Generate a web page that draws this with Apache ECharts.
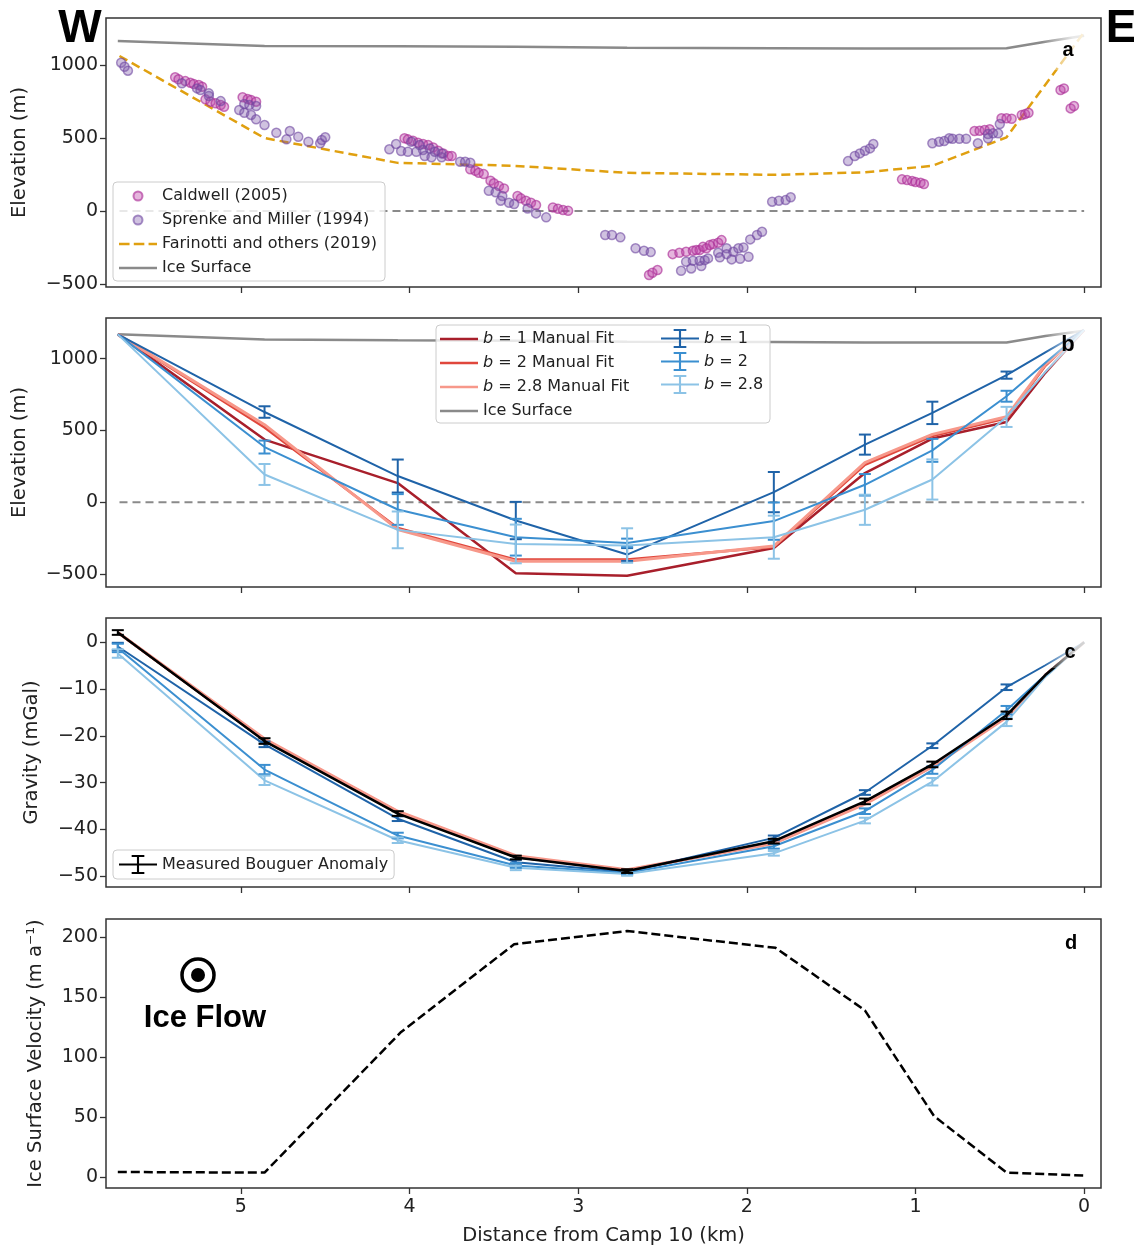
<!DOCTYPE html>
<html>
<head>
<meta charset="utf-8">
<script src="https://cdn.jsdelivr.net/npm/echarts@6/dist/echarts.min.js"></script>
<style>
  html, body { margin:0; padding:0; background:#fff; }
  #main { width:1134px; height:1248px; }
</style>
</head>
<body>
<div id="main"></div>
<script>
// stations along the profile (km from Camp 10)
var stations = [5.73, 4.86, 4.07, 3.37, 2.71, 1.84, 1.30, 0.90, 0.46, 0.23, 0.0];
var kmTicks = [0, 1, 2, 3, 4, 5];

// panel a
var iceSurfA = [1164, 1130, 1128, 1125, 1118, 1115, 1113, 1113, 1115, 1160, 1200];
var farX = [5.72, 4.86, 4.07, 3.38, 2.71, 1.84, 1.30, 0.90, 0.46, 0.0];
var farinotti = [1062, 500, 330, 310, 262, 248, 265, 310, 505, 1225];
var caldwell = [
  [5.39,916],[5.37,902],[5.33,890],[5.30,879],[5.28,870],[5.25,863],[5.23,851],
  [5.21,765],[5.18,749],[5.15,738],[5.12,726],[5.10,714],
  [4.99,779],[4.96,767],[4.94,760],[4.91,749],
  [4.03,498],[4.01,491],[3.98,482],[3.95,468],[3.92,459],[3.89,452],[3.86,436],[3.83,413],[3.80,395],[3.77,377],[3.75,377],
  [3.64,286],[3.61,276],[3.59,262],[3.56,253],
  [3.52,208],[3.50,190],[3.47,171],[3.44,155],
  [3.36,103],[3.34,87],[3.31,71],[3.28,57],[3.25,41],
  [3.15,25],[3.12,16],[3.09,7],[3.06,2],
  [2.58,-438],[2.56,-422],[2.53,-404],
  [2.44,-295],[2.40,-286],[2.36,-279],[2.32,-272],[2.28,-267],[2.24,-255],[2.20,-226],[2.17,-217],[2.15,-199],[2.30,-267],[2.26,-245],[2.22,-233],
  [1.08,217],[1.05,212],[1.02,205],[1.00,199],[0.97,194],[0.95,185],
  [0.65,548],[0.62,550],[0.59,555],[0.56,560],
  [0.49,635],[0.46,635],[0.43,632],
  [0.37,658],[0.35,664],[0.33,673],
  [0.14,829],[0.12,840],[0.08,703],[0.06,719]
];
var sprenke = [
  [5.71,1016],[5.69,988],[5.67,961],
  [5.35,875],[5.26,840],[5.24,829],[5.19,806],[5.19,788],[5.12,753],
  [5.01,692],[4.98,673],[4.94,658],[4.91,628],
  [4.98,733],[4.95,726],[4.91,719],
  [4.86,589],[4.79,536],[4.73,491],[4.71,548],[4.66,509],[4.60,475],[4.53,464],[4.52,486],[4.50,505],
  [4.12,423],[4.08,459],[4.05,411],[4.01,406],[3.96,406],[3.92,418],[3.91,377],[3.87,368],[3.81,368],
  [3.99,475],[3.94,452],[3.88,429],[3.85,406],[3.81,395],
  [3.70,338],[3.67,338],[3.64,331],
  [3.53,139],[3.49,128],[3.45,103],[3.46,71],[3.41,57],[3.38,48],
  [3.30,18],[3.25,-16],[3.19,-43],
  [2.84,-164],[2.80,-164],[2.75,-180],
  [2.66,-255],[2.61,-272],[2.57,-281],
  [2.39,-409],[2.33,-393],[2.27,-377],
  [2.36,-347],[2.32,-340],[2.28,-340],[2.25,-336],[2.23,-324],
  [2.17,-286],[2.16,-317],[2.12,-255],[2.12,-295],[2.08,-279],[2.05,-255],[2.02,-249],
  [2.09,-331],[2.04,-327],[1.99,-313],
  [1.98,-194],[1.94,-164],[1.91,-142],
  [1.85,64],[1.81,71],[1.77,75],[1.74,94],
  [1.40,342],[1.36,377],[1.33,395],[1.30,413],[1.27,429],[1.25,459],
  [0.90,464],[0.86,475],[0.83,479],[0.80,498],[0.78,495],[0.74,495],[0.70,495],
  [0.63,464],[0.57,498],[0.54,532],[0.51,532],[0.57,527],[0.50,596]
];

// panel b (bed elevation, m)
var iceSurfB = [1169, 1134, 1128, 1124, 1118, 1115, 1113, 1113, 1113, 1157, 1194];
var bedB1  = [1169, 628, 182, -128, -365, 70, 401, 622, 885, 1043, 1200];
var errB1  = [0, 40, 115, 130, 45, 140, 70, 78, 25, 0, 0];
var bedB2  = [1169, 384, -51, -244, -284, -132, 121, 361, 738, 971, 1200];
var errB2  = [0, 45, 107, 128, 30, 130, 75, 80, 38, 0, 0];
var bedB28 = [1169, 193, -193, -291, -302, -244, -53, 158, 594, 908, 1200];
var errB28 = [0, 73, 128, 135, 120, 150, 105, 140, 70, 0, 0];
var fitB1  = [1169, 436, 133, -496, -512, -319, 203, 443, 559, 901, 1200];
var fitB2  = [1169, 520, -180, -400, -400, -312, 260, 460, 585, 950, 1200];
var fitB28 = [1169, 540, -190, -412, -412, -306, 275, 472, 595, 960, 1200];

// panel c (gravity, mGal)
var gMeas  = [2.1, -21.1, -36.6, -46.0, -48.9, -42.5, -34.0, -26.1, -15.6, -7.0, 0];
var gMeasErr = [0.5, 0.6, 0.5, 0.4, 0.4, 0.5, 0.6, 0.6, 0.8, 0, 0];
var gB1  = [-0.9, -21.8, -37.7, -47.0, -49.1, -41.8, -32.1, -22.1, -9.6, -4.9, 0];
var gB1Err = [0.8, 0.6, 0.5, 0.5, 0.4, 0.5, 0.5, 0.5, 0.6, 0, 0];
var gB2  = [-1.2, -27.2, -41.3, -47.7, -49.3, -43.6, -36.1, -27.3, -14.5, -7.0, 0];
var gB2Err = [0.9, 1.0, 0.6, 0.5, 0.4, 0.5, 0.6, 0.8, 0.9, 0, 0];
var gB28 = [-2.4, -29.5, -42.3, -48.2, -49.5, -45.1, -38.1, -29.8, -17.0, -7.4, 0];
var gB28Err = [0.9, 1.0, 0.6, 0.5, 0.4, 0.5, 0.6, 0.8, 0.9, 0, 0];
var gFit1  = [2.1, -21.0, -36.4, -45.9, -48.8, -42.7, -34.2, -26.3, -15.8, -7.0, 0];
var gFit2  = [2.1, -20.8, -36.2, -45.7, -48.7, -42.9, -34.5, -26.5, -15.9, -7.0, 0];
var gFit28 = [2.1, -20.6, -36.1, -45.6, -48.6, -43.0, -34.6, -26.6, -16.0, -7.0, 0];

// panel d (ice surface velocity, m/a)
var velX = [5.73, 4.86, 4.05, 3.38, 2.71, 1.83, 1.30, 0.89, 0.46, 0.0];
var vel  = [4.5, 4, 121, 194, 205, 191, 139, 51, 4, 1.5];

var FONT = 'DejaVu Sans';
var cBlue1 = '#1f63a8', cBlue2 = '#3b8fd0', cBlue3 = '#8cc3e6';
var cRed1 = '#a81f2b', cRed2 = '#e0473c', cRed3 = '#f7988a';
var cGray = '#8a8a8a', cOrange = '#e0a010';

function pairs(xs, ys){ return xs.map(function(x,i){ return [x, ys[i]]; }); }
function minus(v){ return String(v).replace('-', '\u2212'); }

function lineS(name, idx, xs, ys, color, width, dash, z){
  return {
    type:'line', name:name, xAxisIndex:idx, yAxisIndex:idx,
    data:pairs(xs, ys), symbol:'none', showSymbol:false, silent:true, z:z || 2,
    lineStyle:{color:color, width:width, type:dash || 'solid'},
    itemStyle:{color:color}
  };
}

function errS(name, idx, xs, ys, errs, color, hw){
  var d = [];
  for (var i = 0; i < xs.length; i++) {
    if (errs[i] > 0) d.push([xs[i], ys[i] - errs[i], ys[i] + errs[i]]);
  }
  return {
    type:'custom', name:name, xAxisIndex:idx, yAxisIndex:idx, data:d, silent:true, z:3,
    itemStyle:{color:color},
    encode:{x:0, y:[1,2]},
    renderItem:function(params, api){
      var lo = api.coord([api.value(0), api.value(1)]);
      var hi = api.coord([api.value(0), api.value(2)]);
      var st = {stroke:color, lineWidth:2};
      return {type:'group', children:[
        {type:'line', shape:{x1:lo[0], y1:lo[1], x2:hi[0], y2:hi[1]}, style:st},
        {type:'line', shape:{x1:lo[0]-hw, y1:lo[1], x2:lo[0]+hw, y2:lo[1]}, style:st},
        {type:'line', shape:{x1:hi[0]-hw, y1:hi[1], x2:hi[0]+hw, y2:hi[1]}, style:st}
      ]};
    }
  };
}

var errIcon = 'path://M0,9h36v2h-36z M17,1h2v18h-2z M12,1h12v2h-12z M12,17h12v2h-12z';
var solidIcon = 'path://M0,0h36v2.5h-36z';
var dashIcon = 'path://M0,0h10v2.5h-10z M14,0h10v2.5h-10z M28,0h8v2.5h-8z';

var grids = [
  {left:106, right:33, top:18, height:269},
  {left:106, right:33, top:318, height:269},
  {left:106, right:33, top:618, height:269},
  {left:106, right:33, top:919, height:269}
].map(function(g){
  g.show = true; g.borderColor = '#333'; g.borderWidth = 1.5; g.backgroundColor = 'transparent';
  return g;
});

var xAxes = [0,1,2,3].map(function(i){
  return {
    gridIndex:i, type:'value', inverse:true, min:-0.1, max:5.8, position:'bottom',
    axisLine:{show:false, onZero:false}, splitLine:{show:false},
    axisTick:{show:true, length:6, lineStyle:{color:'#333', width:1.3}, customValues:kmTicks},
    axisLabel:{show:i === 3, customValues:kmTicks, fontSize:19, fontFamily:FONT, color:'#222', margin:10},
    name:i === 3 ? 'Distance from Camp 10 (km)' : '',
    nameLocation:'middle', nameGap:38,
    nameTextStyle:{fontSize:19.5, fontFamily:FONT, color:'#222'}
  };
});

function yAx(i, min, max, ticks, name, gap){
  return {
    gridIndex:i, type:'value', min:min, max:max, position:'left',
    axisLine:{show:false, onZero:false}, splitLine:{show:false},
    axisTick:{show:true, length:6, lineStyle:{color:'#333', width:1.3}, customValues:ticks},
    axisLabel:{customValues:ticks, fontSize:19, fontFamily:FONT, color:'#222', margin:8, formatter:minus},
    name:name, nameLocation:'middle', nameGap:gap,
    nameTextStyle:{fontSize:19.5, fontFamily:FONT, color:'#222'}
  };
}

var yAxes = [
  yAx(0, -520, 1322, [-500, 0, 500, 1000], 'Elevation (m)', 76),
  yAx(1, -591, 1283, [-500, 0, 500, 1000], 'Elevation (m)', 76),
  yAx(2, -52.3, 5.2, [-50, -40, -30, -20, -10, 0], 'Gravity (mGal)', 64),
  yAx(3, -8.8, 215, [0, 50, 100, 150, 200], 'Ice Surface Velocity (m a\u207B\u00B9)', 60)
];

var series = [
  // panel a
  lineS('zeroA', 0, [5.72, 0], [0, 0], cGray, 2, [8, 5], 1),
  lineS('Ice Surface', 0, stations, iceSurfA, cGray, 2.5),
  lineS('Farinotti and others (2019)', 0, farX, farinotti, cOrange, 2.5, [9, 5]),
  {type:'scatter', name:'Caldwell (2005)', xAxisIndex:0, yAxisIndex:0, data:caldwell, symbolSize:9, silent:true, z:3,
   itemStyle:{color:'rgba(190,70,170,0.5)', borderColor:'rgba(170,45,150,0.8)', borderWidth:1.5}},
  {type:'scatter', name:'Sprenke and Miller (1994)', xAxisIndex:0, yAxisIndex:0, data:sprenke, symbolSize:9, silent:true, z:3,
   itemStyle:{color:'rgba(125,85,170,0.45)', borderColor:'rgba(110,70,160,0.75)', borderWidth:1.5}},

  // panel b
  lineS('zeroB', 1, [5.72, 0], [0, 0], cGray, 2, [8, 5], 1),
  lineS('Ice Surface', 1, stations, iceSurfB, cGray, 2.5),
  lineS('b = 1 Manual Fit', 1, stations, fitB1, cRed1, 2.5),
  lineS('b = 2 Manual Fit', 1, stations, fitB2, cRed2, 2.5),
  lineS('b = 2.8 Manual Fit', 1, stations, fitB28, cRed3, 3),
  lineS('b = 1', 1, stations, bedB1, cBlue1, 2),
  lineS('b = 2', 1, stations, bedB2, cBlue2, 2),
  lineS('b = 2.8', 1, stations, bedB28, cBlue3, 2),
  errS('b = 1', 1, stations, bedB1, errB1, cBlue1, 6),
  errS('b = 2', 1, stations, bedB2, errB2, cBlue2, 6),
  errS('b = 2.8', 1, stations, bedB28, errB28, cBlue3, 6),

  // panel c
  lineS('b = 1 Manual Fit', 2, stations, gFit1, cRed1, 2.5),
  lineS('b = 2 Manual Fit', 2, stations, gFit2, cRed2, 2.5),
  lineS('b = 2.8 Manual Fit', 2, stations, gFit28, cRed3, 3),
  lineS('b = 1', 2, stations, gB1, cBlue1, 2),
  lineS('b = 2', 2, stations, gB2, cBlue2, 2),
  lineS('b = 2.8', 2, stations, gB28, cBlue3, 2),
  errS('b = 1', 2, stations, gB1, gB1Err, cBlue1, 6),
  errS('b = 2', 2, stations, gB2, gB2Err, cBlue2, 6),
  errS('b = 2.8', 2, stations, gB28, gB28Err, cBlue3, 6),
  lineS('Measured Bouguer Anomaly', 2, stations, gMeas, '#000', 2.5, 'solid', 4),
  errS('Measured Bouguer Anomaly', 2, stations, gMeas, gMeasErr, '#000', 6),

  // panel d
  lineS('velocity', 3, velX, vel, '#000', 2.5, [9, 4])
];

var legText = {fontSize:16, fontFamily:FONT, color:'#222',
  rich:{i:{fontStyle:'italic', fontSize:16, fontFamily:FONT, color:'#222'}}};
function italicB(name){ return name.replace(/^b /, '{i|b} '); }

var legends = [
  {left:113, top:182, orient:'vertical', itemWidth:38, itemHeight:9, itemGap:8,
   padding:[6, 8, 5, 6], backgroundColor:'rgba(255,255,255,0.8)', borderColor:'#ccc', borderWidth:1, borderRadius:4,
   textStyle:legText, selectedMode:false,
   data:[
     {name:'Caldwell (2005)', icon:'circle'},
     {name:'Sprenke and Miller (1994)', icon:'circle'},
     {name:'Farinotti and others (2019)', icon:dashIcon},
     {name:'Ice Surface', icon:solidIcon}
   ]},
  {left:440, top:331, orient:'vertical', itemWidth:38, itemHeight:10, itemGap:8, padding:[0, 0, 0, 0],
   textStyle:legText, formatter:italicB, selectedMode:false, z:5,
   data:[
     {name:'b = 1 Manual Fit', icon:solidIcon},
     {name:'b = 2 Manual Fit', icon:solidIcon},
     {name:'b = 2.8 Manual Fit', icon:solidIcon},
     {name:'Ice Surface', icon:solidIcon}
   ]},
  {left:661, top:329, orient:'vertical', itemWidth:38, itemHeight:19, itemGap:4, padding:[0, 0, 0, 0],
   textStyle:legText, formatter:italicB, selectedMode:false, z:5,
   data:[
     {name:'b = 1', icon:errIcon},
     {name:'b = 2', icon:errIcon},
     {name:'b = 2.8', icon:errIcon}
   ]},
  {left:113, top:850, orient:'vertical', itemWidth:38, itemHeight:19, itemGap:7,
   padding:[5, 6, 5, 6], backgroundColor:'rgba(255,255,255,0.8)', borderColor:'#ccc', borderWidth:1, borderRadius:4,
   textStyle:legText, selectedMode:false,
   data:[{name:'Measured Bouguer Anomaly', icon:errIcon}]}
];

// white wash over the right-hand ends, as in the original figure
function fade(x, y, w, h){
  return {type:'rect', z:8, silent:true, shape:{x:x, y:y, width:w, height:h},
    style:{fill:new echarts.graphic.LinearGradient(0, 0, 1, 0, [
      {offset:0, color:'rgba(255,255,255,0)'},
      {offset:0.55, color:'rgba(255,255,255,0.8)'},
      {offset:1, color:'rgba(255,255,255,0.88)'}
    ])}};
}
function label(t, x, y, size){
  return {type:'text', z:10, silent:true, x:x, y:y,
    style:{text:t, fontSize:size, fontWeight:'bold', fontFamily:'Liberation Sans', fill:'#000', align:'center', verticalAlign:'middle'}};
}

var graphics = [
  fade(1042, 20, 56, 50),
  fade(1045, 320, 54, 55),
  fade(1043, 620, 55, 48),
  {type:'rect', z:4, silent:true, shape:{x:436, y:325, width:334, height:98, r:4},
   style:{fill:'rgba(255,255,255,0.8)', stroke:'#ccc', lineWidth:1}},
  label('a', 1068, 50, 20),
  label('b', 1068, 345, 22),
  label('c', 1070, 652, 20),
  label('d', 1071, 943, 20),
  label('W', 80, 29, 46),
  label('E', 1121, 29, 46),
  {type:'circle', z:10, silent:true, shape:{cx:198, cy:975, r:16}, style:{fill:'none', stroke:'#000', lineWidth:3.5}},
  {type:'circle', z:10, silent:true, shape:{cx:198, cy:975, r:7}, style:{fill:'#000'}},
  label('Ice Flow', 205, 1018, 31)
];

var myChart = echarts.init(document.getElementById('main'), null, {renderer:'canvas'});
myChart.setOption({
  animation:false,
  backgroundColor:'#fff',
  grid:grids,
  xAxis:xAxes,
  yAxis:yAxes,
  legend:legends,
  series:series,
  graphic:{elements:graphics}
});
</script>
</body>
</html>
